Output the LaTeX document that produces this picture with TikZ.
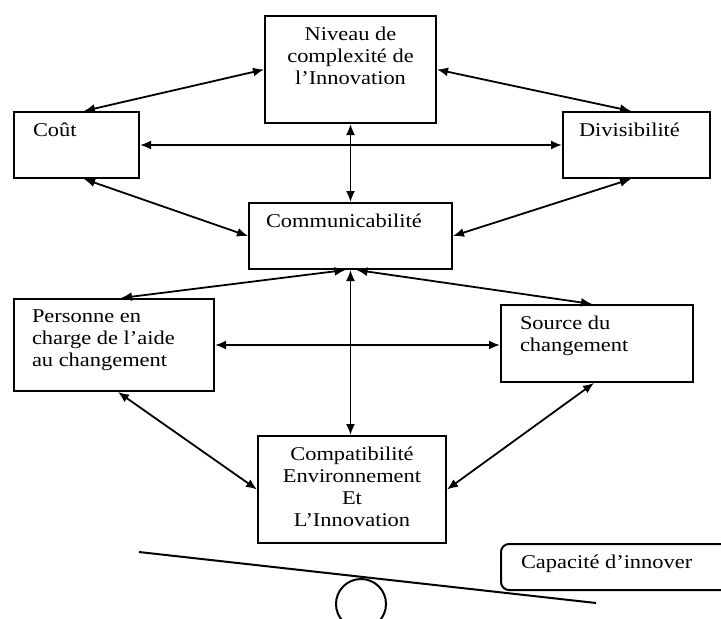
\documentclass[tikz,border=0pt]{standalone}
\usepackage{fontspec}
\setmainfont[FakeStretch=1.15]{Liberation Serif}
\usetikzlibrary{arrows.meta, positioning}

% text block inside a box: width, height, text (set from the top)
\newcommand{\boxtxt}[3]{\parbox[t][#2][t]{#1}{#3}}

\begin{document}
\begin{tikzpicture}[
  x=1pt, y=-1pt,
  every node/.style={font=\fontsize{19.5}{22}\selectfont},
  box/.style={draw, line width=2pt, anchor=north west, inner ysep=11pt},
  arrow/.style={<->, >={Latex[length=11pt,width=9pt]}, line width=1.8pt},
]
\useasboundingbox (0,0) rectangle (721,619);
\clip (0,0) rectangle (721,619);

% Nodes
\node[box, inner xsep=6pt]  (niv)    at (264,15)  {\boxtxt{159pt}{85pt}{\centering Niveau de\\complexité de\\l’Innovation}};
\node[box, inner xsep=19pt] (cout)   at (13,111)  {\boxtxt{87pt}{44pt}{Coût}};
\node[box, inner xsep=16pt] (div)    at (562,111) {\boxtxt{115pt}{44pt}{Divisibilité}};
\node[box, inner xsep=17pt] (comm)   at (248,202) {\boxtxt{169pt}{44pt}{Communicabilité}};
\node[box, inner xsep=18pt] (pers)   at (13,298)  {\boxtxt{164pt}{70pt}{Personne en\\charge de l’aide\\au changement}};
\node[box, inner xsep=19pt] (src)    at (500,304) {\boxtxt{154pt}{55pt}{Source du\\changement}};
\node[box, inner xsep=6pt]  (compat) at (257,435) {\boxtxt{176pt}{85pt}{\centering Compatibilité\\Environnement\\Et\\L’Innovation}};
\node[box, inner xsep=20pt, rounded corners=8pt] (cap) at (500,543) {\boxtxt{200pt}{24pt}{Capacité d’innover}};

% Arrows
\draw [arrow] (niv.west) -- ([xshift=7.5pt]cout.north);
\draw [arrow] (niv.east) -- ([xshift=-5.5pt]div.north);
\draw [arrow] (cout.east) -- (div.west);
\draw [arrow] (niv.south) -- (comm.north);
\draw [arrow] ([xshift=7.5pt]cout.south) -- (comm.west);
\draw [arrow] ([xshift=-5.5pt]div.south) -- (comm.east);
\draw [arrow] ([xshift=-5pt]comm.south) -- ([xshift=7pt]pers.north);
\draw [arrow] ([xshift=6pt]comm.south) -- ([xshift=-5pt]src.north);
\draw [arrow] (pers.east) -- (pers.east -| src.west);
\draw [arrow] (comm.south) -- (comm.south |- compat.north);
\draw [arrow] ([xshift=4pt]pers.south) -- (compat.west);
\draw [arrow] ([xshift=-3pt]src.south) -- (compat.east);

% Balance
\draw [line width=2pt] (139,552) -- (596,603);
\draw [line width=2pt] (361,604) circle (25);

\end{tikzpicture}
\end{document}
